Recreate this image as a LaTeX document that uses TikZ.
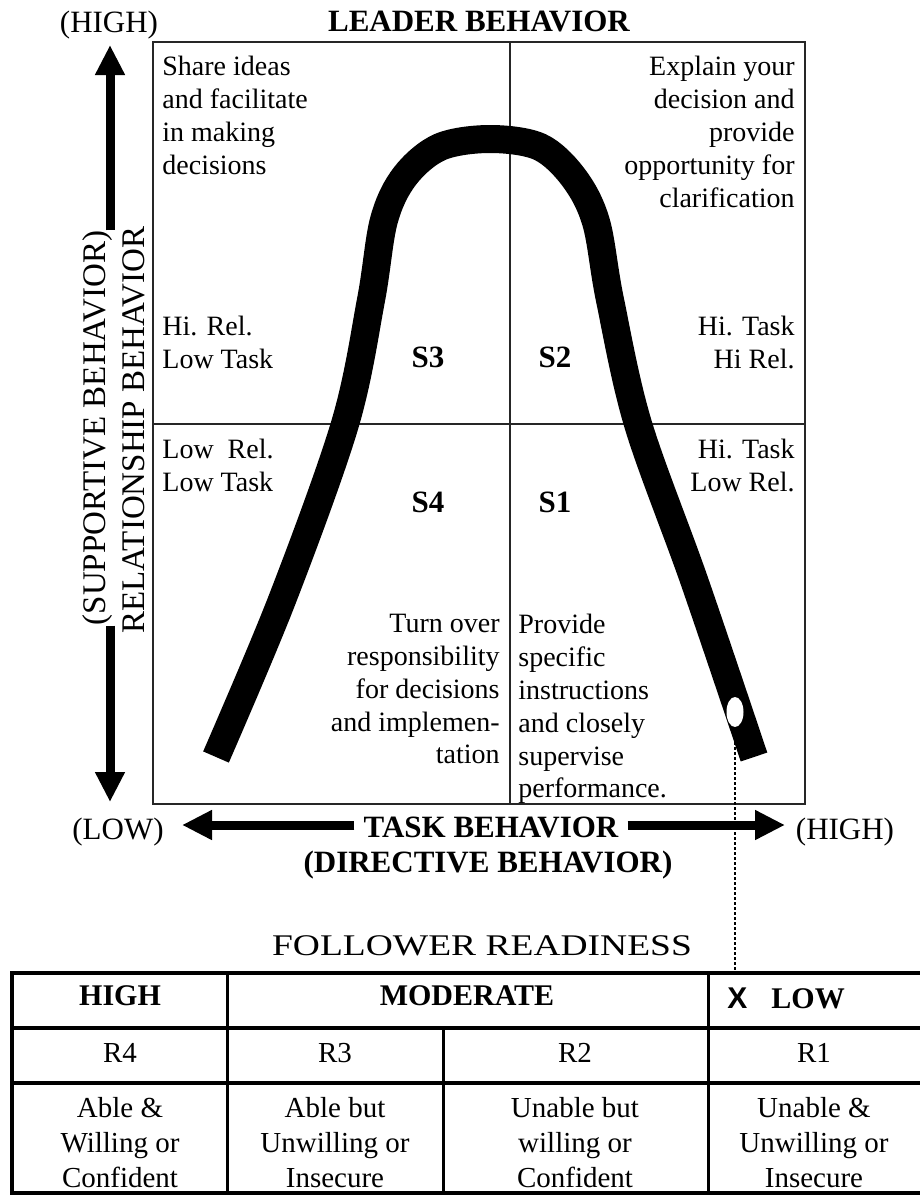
\documentclass[tikz,border=0pt]{standalone}
\usepackage{fontspec}
\setmainfont{Liberation Serif}
\setsansfont{Liberation Sans}
\usetikzlibrary{arrows.meta,shapes.geometric}
\begin{document}
\begin{tikzpicture}[x=0.5pt,y=-0.5pt,
    txt/.style={font=\fontsize{14}{16.4}\selectfont, inner sep=0pt},
    lbl/.style={font=\fontsize{15.5}{18}\selectfont, inner sep=0pt, anchor=base},
    head/.style={font=\fontsize{15.5}{18}\selectfont\bfseries, inner sep=0pt},
    rot/.style={font=\fontsize{16.5}{19}\selectfont, inner sep=0pt, rotate=90},
    cell/.style={font=\fontsize{14.5}{17.5}\selectfont, align=center, inner sep=0pt},
    cellhead/.style={font=\fontsize{15}{18}\selectfont\bfseries, inner sep=0pt},
    bigarrow/.style={line width=4.5pt, -{Triangle[length=15pt,width=14pt]}},
    grid/.style={line width=1pt, black!85},
    dotline/.style={line width=1.2pt, dash pattern=on 1.5pt off 1pt}
]
\useasboundingbox (0,0) rectangle (920,1195);

\draw[grid] (153,42) rectangle (805,804);
\draw[grid] (510,42) -- (510,804);
\draw[grid] (153,424) -- (805,424);

\node[lbl] (yhigh) at (109,32) {(HIGH)};
\node[head, anchor=base] (leader) at (479,31) {LEADER BEHAVIOR};

\node[rot] (supp) at (98,428) {(SUPPORTIVE BEHAVIOR)};
\node[rot] (rel) at (134,430) {RELATIONSHIP BEHAVIOR};
\coordinate (ytop) at (110,45);
\coordinate (ybot) at (110,802);
\draw[bigarrow] (supp.east -| ytop) -- (ytop);
\draw[bigarrow] (supp.west -| ybot) -- (ybot);

\node[txt, anchor=north west, align=left] (share) at (162,56) {Share ideas\\and facilitate\\in making\\decisions};
\node[txt, anchor=north east, align=right] (explain) at (795,56) {Explain your\\decision and\\provide\\opportunity for\\clarification};
\node[txt, anchor=north west, align=left] (hirel) at (162,316) {Hi. Rel.\\Low Task};
\node[txt, anchor=north east, align=right] (hitask) at (795,316) {Hi. Task\\Hi Rel.};
\node[txt, anchor=north west, align=left] (lowrel) at (162,439) {Low\ \ Rel.\\Low Task};
\node[txt, anchor=north east, align=right] (lowtask) at (795,439) {Hi. Task\\Low Rel.};
\node[txt, anchor=north east, align=right] (turn) at (500,614) {Turn over\\responsibility\\for decisions\\and implemen-\\tation};
\node[txt, anchor=north west, align=left] (provide) at (518,614) {Provide\\specific\\instructions\\and closely\\supervise\\performance.};

\foreach \s/\x/\y in {S3/428/357, S2/555/357, S4/428/502, S1/555/502}
    \node[head] (\s) at (\x,\y) {\s};

\draw[line width=14pt] plot[smooth, tension=0.55] coordinates {
    (216,757) (282,600) (345,424) (371,300) (384,220) (405,176) (440,147)
    (490,139) (540,147) (574,178) (596,222) (610,300) (638,424) (694,580) (754,757)};
\node[ellipse, fill=white, minimum width=8.5pt, minimum height=15pt, inner sep=0pt] (mark) at (735,712) {};

\node[lbl] (xlow) at (118,839) {(LOW)};
\node[lbl] (xhigh) at (845,839) {(HIGH)};
\node[head, anchor=base, inner xsep=4.5pt] (task) at (491,837) {TASK BEHAVIOR};
\node[head, anchor=base] (directive) at (488,872) {(DIRECTIVE BEHAVIOR)};
\coordinate (xlo) at (182,825);
\coordinate (xhi) at (785,825);
\draw[bigarrow] (task.west |- xlo) -- (xlo);
\draw[bigarrow] (task.east |- xhi) -- (xhi);

\node[lbl, font=\fontsize{15}{18}\selectfont, xscale=1.25] (follower) at (482,955) {FOLLOWER READINESS};
\coordinate (tabtop) at (735,973);
\draw[dotline] (mark.south) -- (tabtop);

\draw[line width=2pt] (12,973) rectangle (922,1193);
\draw[line width=2pt] (12,1028) -- (922,1028) (12,1083) -- (922,1083);
\draw[line width=1.5pt] (227,973) -- (227,1193) (708,973) -- (708,1193) (443,1028) -- (443,1193);

\node[cellhead, anchor=base] (high) at (120,1005) {HIGH};
\node[cellhead, anchor=base] (moderate) at (467,1005) {MODERATE};
\node[cellhead, anchor=base west] (low) at (727,1008) {{\sffamily X}\hspace{12pt}LOW};

\foreach \r/\x in {R4/120, R3/335, R2/575, R1/814}
    \node[cell, anchor=base] (\r) at (\x,1062) {\r};

\foreach \n/\x/\t in {r4/120/{Able \&\\Willing or\\Confident}, r3/335/{Able but\\Unwilling or\\Insecure},
    r2/575/{Unable but\\willing or\\Confident}, r1/814/{Unable \&\\Unwilling or\\Insecure}}
    \node[cell, anchor=north] (\n) at (\x,1097) {\t};
\end{tikzpicture}
\end{document}
